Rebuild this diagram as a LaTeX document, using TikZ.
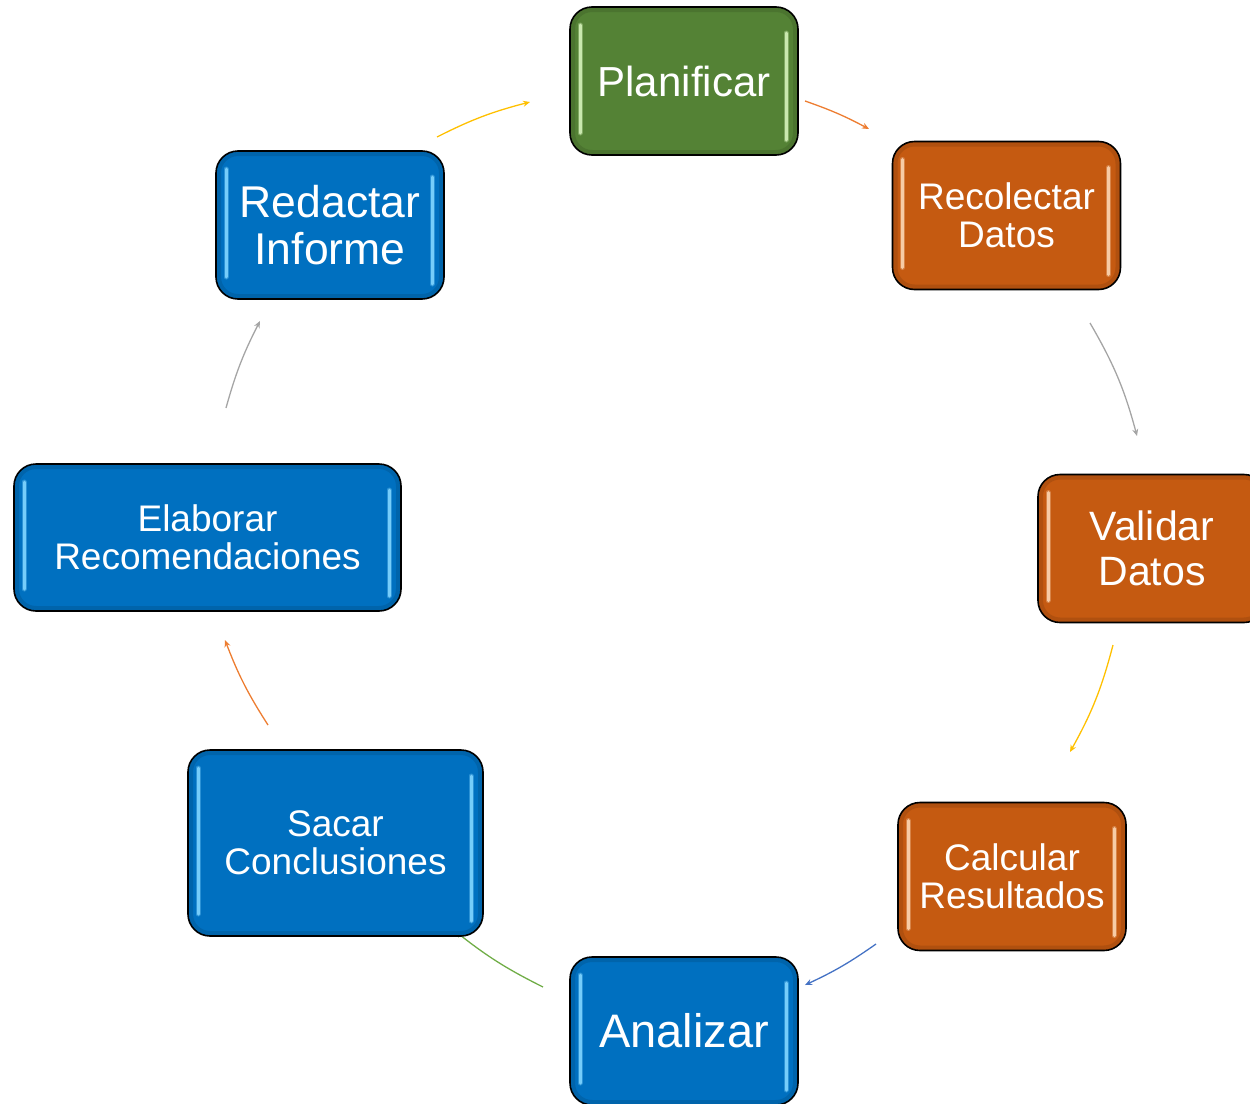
\documentclass[tikz,border=0pt]{standalone}
\usepackage{fontspec}
\setmainfont{Liberation Sans}
\usetikzlibrary{arrows.meta,backgrounds}
\definecolor{cgreen}{HTML}{548235}
\definecolor{corange}{HTML}{C55A11}
\definecolor{cblue}{HTML}{0070C0}
\definecolor{lgreen}{HTML}{D3F0B8}
\definecolor{lorange}{HTML}{FBD3B0}
\definecolor{lblue}{HTML}{7FD4FF}
\definecolor{aorange}{HTML}{ED7D31}
\definecolor{agray}{HTML}{A5A5A5}
\definecolor{ayellow}{HTML}{FFC000}
\definecolor{ablue}{HTML}{4472C4}
\definecolor{agreen}{HTML}{70AD47}
\begin{document}
\begin{tikzpicture}[x=1pt,y=-1pt,
  glossy/.style 2 args={rectangle, rounded corners=22pt, draw=black, line width=1.6pt,
    fill=#1, text=white, align=center, inner sep=0pt,
    path picture={
      \draw[#1!70!black, line width=10pt, opacity=0.35, rounded corners=22pt]
        (path picture bounding box.south west) rectangle (path picture bounding box.north east);
      \draw[#2, line width=5pt, line cap=round, opacity=0.35]
        ([shift={(10pt,-18pt)}]path picture bounding box.north west) --
        ([shift={(10pt,22pt)}]path picture bounding box.south west);
      \draw[#2, line width=3pt, line cap=round, opacity=0.9]
        ([shift={(10pt,-18pt)}]path picture bounding box.north west) --
        ([shift={(10pt,22pt)}]path picture bounding box.south west);
      \draw[#2, line width=5pt, line cap=round, opacity=0.35]
        ([shift={(-12pt,-26pt)}]path picture bounding box.north east) --
        ([shift={(-12pt,15pt)}]path picture bounding box.south east);
      \draw[#2, line width=3pt, line cap=round, opacity=0.9]
        ([shift={(-12pt,-26pt)}]path picture bounding box.north east) --
        ([shift={(-12pt,15pt)}]path picture bounding box.south east);
    }},
  box/.style={minimum width=228pt, minimum height=148pt},
  f37/.style={font=\fontsize{37}{38.5}\selectfont},
  conn/.style={line width=1.3pt, -{Stealth[length=7pt,width=6pt]}},
]
\useasboundingbox (0,0) rectangle (1250,1103);

\node[glossy={cgreen}{lgreen}, box, font=\fontsize{42}{44}\selectfont] (plan) at (684,81) {Planificar};
\node[glossy={corange}{lorange}, box, f37] (reco) at (1006.5,215.5) {Recolectar\\Datos};
\node[glossy={corange}{lorange}, box, font=\fontsize{41}{45}\selectfont] (vali) at (1152,548.5) {Validar\\Datos};
\node[glossy={corange}{lorange}, box, f37] (calc) at (1012,876.5) {Calcular\\Resultados};
\node[glossy={cblue}{lblue}, box, font=\fontsize{47}{50}\selectfont] (anal) at (684,1031) {Analizar};
\node[glossy={cblue}{lblue}, minimum width=295pt, minimum height=186pt, f37] (saca) at (335.5,843) {Sacar\\Conclusiones};
\node[glossy={cblue}{lblue}, minimum width=387pt, minimum height=147pt, f37] (elab) at (207.5,537.5) {Elaborar\\Recomendaciones};
\node[glossy={cblue}{lblue}, box, font=\fontsize{44.5}{47}\selectfont] (reda) at (330,225) {Redactar\\Informe};

\coordinate (a1s) at (805,101);  \coordinate (a1e) at (869,129);
\coordinate (a2s) at (1090,323); \coordinate (a2e) at (1137,436);
\coordinate (a3s) at (1113,645); \coordinate (a3e) at (1070,752);
\coordinate (a4s) at (876,944);  \coordinate (a4e) at (805,985);
\coordinate (a5s) at (543,987);  \coordinate (a5e) at (455,931);
\coordinate (a6s) at (268,725);  \coordinate (a6e) at (225,640);
\coordinate (a7s) at (226,408);  \coordinate (a7e) at (260,321);
\coordinate (a8s) at (437,137);  \coordinate (a8e) at (530,102);

\begin{scope}[on background layer]
\draw[conn, aorange] (a1s) to[bend left=4.4] (a1e);
\draw[conn, agray]   (a2s) to[bend left=7.6] (a2e);
\draw[conn, ayellow] (a3s) to[bend left=7.2] (a3e);
\draw[conn, ablue]   (a4s) to[bend left=5.1] (a4e);
\draw[conn, agreen]  (a5s) to[bend left=5.9] (a5e);
\draw[conn, aorange] (a6s) to[bend left=5.9] (a6e);
\draw[conn, agray]   (a7s) to[bend left=5.8] (a7e);
\draw[conn, ayellow] (a8s) to[bend left=6.2] (a8e);
\end{scope}
\end{tikzpicture}
\end{document}
